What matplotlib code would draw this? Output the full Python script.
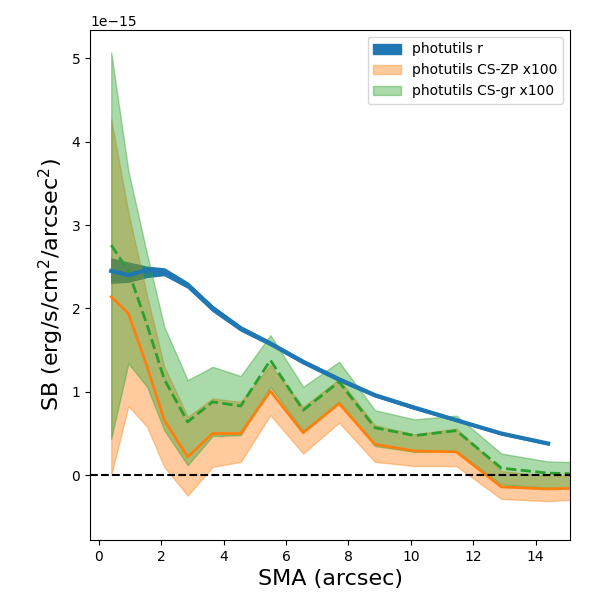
import numpy as np
import matplotlib
matplotlib.use("Agg")
import matplotlib.pyplot as plt

# SMA in arcsec
sma = [0.4, 0.95, 1.55, 2.1, 2.85, 3.65, 4.55, 5.5, 6.55, 7.7,
       8.85, 10.12, 11.46, 12.9, 14.4, 15.9]

# values in units of 1e-15
r_sb = [2.45, 2.40, 2.46, 2.45, 2.28, 2.00, 1.76, 1.58, 1.36, 1.15,
        0.96, 0.81, 0.66, 0.50, 0.38]
r_lo = [2.31, 2.32, 2.38, 2.40, 2.25, 1.97, 1.735, 1.56, 1.34, 1.13,
        0.945, 0.795, 0.65, 0.49, 0.37]
r_hi = [2.60, 2.55, 2.50, 2.48, 2.31, 2.03, 1.785, 1.60, 1.38, 1.17,
        0.975, 0.825, 0.67, 0.51, 0.39]

zp_sb = [2.14, 1.94, 1.30, 0.66, 0.22, 0.50, 0.50, 1.01, 0.51, 0.86,
         0.37, 0.29, 0.28, -0.14, -0.165, -0.15]
zp_lo = [0.0, 0.83, 0.58, 0.10, -0.245, 0.10, 0.16, 0.72, 0.26, 0.63,
         0.16, 0.11, 0.11, -0.285, -0.31, -0.28]
zp_hi = [4.27, 3.15, 2.15, 1.30, 0.70, 0.92, 0.88, 1.32, 0.82, 1.15,
         0.60, 0.49, 0.56, 0.05, -0.01, -0.01]

gr_sb = [2.76, 2.45, 1.80, 1.15, 0.64, 0.88, 0.83, 1.38, 0.78, 1.12,
         0.57, 0.475, 0.535, 0.085, 0.025, 0.01]
gr_lo = [0.44, 1.34, 1.06, 0.54, 0.12, 0.47, 0.48, 1.06, 0.53, 0.88,
         0.35, 0.28, 0.29, -0.11, -0.15, -0.15]
gr_hi = [5.07, 3.65, 2.65, 1.78, 1.14, 1.30, 1.19, 1.68, 1.06, 1.36,
         0.78, 0.67, 0.715, 0.26, 0.165, 0.15]

scale = 1e-15
x = np.array(sma)
xr = x[:len(r_sb)]

fig, ax = plt.subplots(figsize=(6, 6), dpi=100)
fig.subplots_adjust(left=0.15, right=0.95, bottom=0.1, top=0.95)

ax.fill_between(xr, np.array(r_lo) * scale, np.array(r_hi) * scale,
                color="C0", label="photutils r")
ax.fill_between(x, np.array(zp_lo) * scale, np.array(zp_hi) * scale,
                color="C1", alpha=0.4, label="photutils CS-ZP x100")
ax.fill_between(x, np.array(gr_lo) * scale, np.array(gr_hi) * scale,
                color="C2", alpha=0.4, label="photutils CS-gr x100")

ax.plot(x, np.array(zp_sb) * scale, color="C1", lw=2)
ax.plot(x, np.array(gr_sb) * scale, color="C2", lw=2, ls="--")
ax.plot(xr, np.array(r_sb) * scale, color="C0", lw=3)
ax.axhline(0, color="k", ls="--", lw=1.5)

ax.set_xlim(-0.28, 15.1)
ax.set_ylim(-0.777e-15, 5.34e-15)
ax.set_xlabel("SMA (arcsec)", fontsize=16)
ax.set_ylabel(r"SB (erg/s/cm$^2$/arcsec$^2$)", fontsize=16)
ax.legend(loc="upper right")

plt.savefig("out.png")
